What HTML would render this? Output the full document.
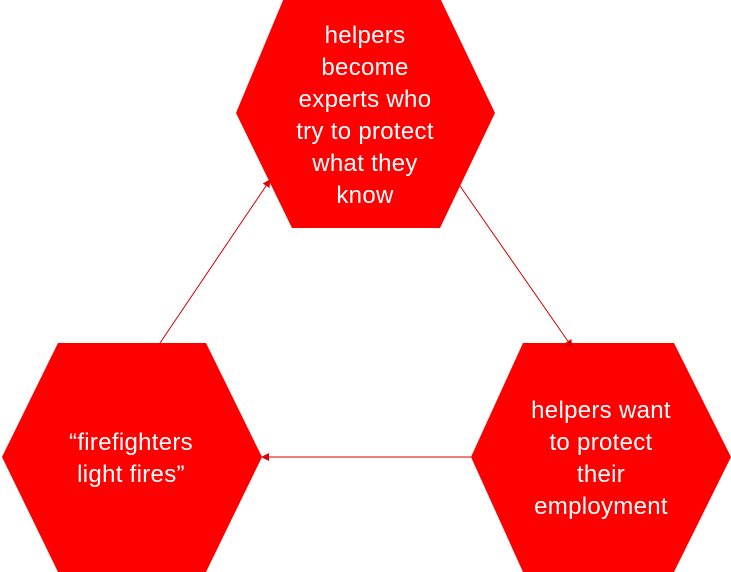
<!DOCTYPE html>
<html><head><meta charset="utf-8"><style>
html,body{margin:0;padding:0;background:#fff;}
svg{display:block}
text{font-family:"Liberation Sans",sans-serif;font-size:24px;fill:#fff;text-anchor:middle;letter-spacing:0.3px}
</style></head><body>
<svg width="731" height="572" viewBox="0 0 731 572">
<defs><marker id="a" markerWidth="8" markerHeight="8" refX="7" refY="4" orient="auto" markerUnits="userSpaceOnUse"><path d="M0,0 L8,4 L0,8 z" fill="#e00000"/></marker></defs>
<polygon points="284,-2 440,-2 495,113 440,228 292,228 236,113" fill="#ff0000"/>
<polygon points="58,343 206,343 262,457 206,572 58,572 2,457" fill="#ff0000"/>
<polygon points="523,343 674,343 731,457 674,572 523,572 471,457" fill="#ff0000"/>
<line x1="160" y1="343" x2="270" y2="180" stroke="#d00000" stroke-width="1" marker-end="url(#a)"/>
<line x1="460" y1="186" x2="572" y2="347" stroke="#d00000" stroke-width="1" marker-end="url(#a)"/>
<line x1="471" y1="457" x2="262" y2="457" stroke="#d00000" stroke-width="1" marker-end="url(#a)"/>
<text x="365" y="43">helpers</text>
<text x="365" y="75">become</text>
<text x="365" y="107">experts who</text>
<text x="365" y="139">try to protect</text>
<text x="365" y="171">what they</text>
<text x="365" y="203">know</text>
<text x="131" y="450">“firefighters</text>
<text x="131" y="482">light fires”</text>
<text x="601" y="418">helpers want</text>
<text x="601" y="450">to protect</text>
<text x="601" y="482">their</text>
<text x="601" y="514">employment</text>
</svg>
</body></html>
